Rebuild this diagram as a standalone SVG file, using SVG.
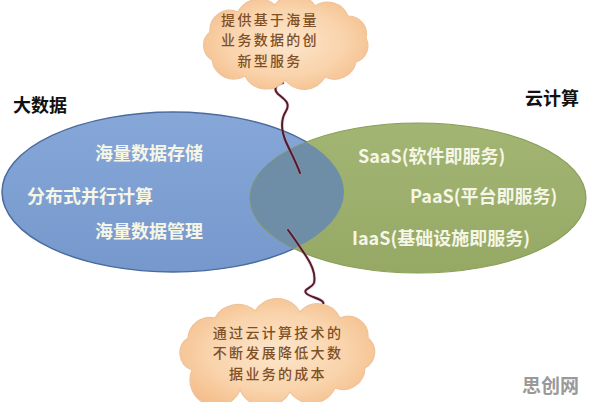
<svg xmlns="http://www.w3.org/2000/svg" width="589" height="402" viewBox="0 0 589 402">
<defs>
<style>
.cjk{font-family:"Noto Sans CJK SC","Noto Sans",sans-serif;dominant-baseline:central;}
.title{font-size:18px;font-weight:bold;fill:#111;}
.item{font-size:18px;font-weight:bold;fill:#f6f6e6;}
.cloudtxt{font-size:14px;font-weight:500;fill:#7f5026;text-anchor:middle;letter-spacing:2.3px;}
.wire{fill:none;stroke:#4e1a33;stroke-width:2;stroke-linecap:round;stroke-linejoin:round;}
.halo{fill:none;stroke:#e08a7a;stroke-width:3.5;stroke-opacity:0.35;stroke-linecap:round;}
.cloud{fill:url(#cg);stroke:#efc39a;stroke-width:1.2;}
</style>
<radialGradient id="cg" cx="50%" cy="50%" r="60%">
<stop offset="0" stop-color="#fde6cc"/>
<stop offset="0.6" stop-color="#f9d3ab"/>
<stop offset="1" stop-color="#f4bc88"/>
</radialGradient>
<linearGradient id="bg" x1="0" y1="0" x2="0" y2="1">
<stop offset="0" stop-color="#86a7d8"/>
<stop offset="1" stop-color="#7698cc"/>
</linearGradient>
<linearGradient id="gg" x1="0" y1="0" x2="0" y2="1">
<stop offset="0" stop-color="#a3b573"/>
<stop offset="1" stop-color="#95a965"/>
</linearGradient>
<clipPath id="greenClip"><ellipse cx="418" cy="198" rx="168" ry="75"/></clipPath>
</defs>
<rect width="589" height="402" fill="#ffffff"/>

<g id="bigdata">
<ellipse cx="173" cy="192" rx="171" ry="80" fill="url(#bg)" stroke="#4a6c9c" stroke-width="1.5"/>
</g>
<g id="cloudcomputing">
<ellipse cx="418" cy="198" rx="168" ry="75" fill="url(#gg)" stroke="#8a9e58" stroke-width="1.2"/>
</g>
<g id="overlap">
<ellipse cx="173" cy="192" rx="171" ry="80" fill="#6e8da7" clip-path="url(#greenClip)"/>
</g>

<g id="labels">
<text class="cjk title" x="13" y="104">大数据</text>
<text class="cjk title" x="525" y="97">云计算</text>
<text class="cjk item" x="95" y="152">海量数据存储</text>
<text class="cjk item" x="27" y="195">分布式并行计算</text>
<text class="cjk item" x="95" y="230">海量数据管理</text>
<text class="cjk item" x="358" y="155">SaaS(软件即服务)</text>
<text class="cjk item" x="410" y="195">PaaS(平台即服务)</text>
<text class="cjk item" x="352" y="237">IaaS(基础设施即服务)</text>
</g>

<g id="connectors">
<path class="halo" d="M283,83 C276,84 273,89 278,94 C284,99 291,103 286,111 C281,119 280,128 286,142 C291,153 296,162 300,173"/>
<path class="wire" d="M283,83 C276,84 273,89 278,94 C284,99 291,103 286,111 C281,119 280,128 286,142 C291,153 296,162 300,173"/>
<path class="halo" d="M288,230 C294,238 300,247 306,256 C312,265 316,274 314,283 C312,288 303,289 306,293 C309,297 320,298 323,302 C325,306 318,307 312,307"/>
<path class="wire" d="M288,230 C294,238 300,247 306,256 C312,265 316,274 314,283 C312,288 303,289 306,293 C309,297 320,298 323,302 C325,306 318,307 312,307"/>
</g>

<g id="topcloud">
<path class="cloud" d="M212,60 A17,17 0 0 1 210,32 A20,20 0 0 1 238,12 A24,24 0 0 1 275,5 A24,24 0 0 1 315,6 A22,22 0 0 1 348,16 A18,18 0 0 1 366,38 A17,17 0 0 1 356,62 A22,22 0 0 1 325,77 A24,24 0 0 1 285,80 A24,24 0 0 1 245,76 A22,22 0 0 1 212,60 Z"/>
<text class="cjk cloudtxt" x="270" y="19">提供基于海量</text>
<text class="cjk cloudtxt" x="270" y="39.4">业务数据的创</text>
<text class="cjk cloudtxt" x="270" y="59.8">新型服务</text>
</g>

<g id="bottomcloud">
<path class="cloud" d="M192,370 A18,18 0 0 1 188,338 A22,22 0 0 1 215,318 A26,26 0 0 1 255,311 A26,26 0 0 1 300,312 A24,24 0 0 1 340,318 A20,20 0 0 1 368,338 A18,18 0 0 1 365,368 A22,22 0 0 1 335,388 A26,26 0 0 1 290,392 A28,28 0 0 1 240,390 A22,22 0 0 1 192,370 Z"/>
<text class="cjk cloudtxt" x="278" y="332">通过云计算技术的</text>
<text class="cjk cloudtxt" x="278" y="352.4">不断发展降低大数</text>
<text class="cjk cloudtxt" x="278" y="372.8">据业务的成本</text>
</g>

<g id="watermark">
<text class="cjk" x="522" y="384" font-size="19" font-weight="bold" fill="#999999">思创网</text>
</g>
</svg>
